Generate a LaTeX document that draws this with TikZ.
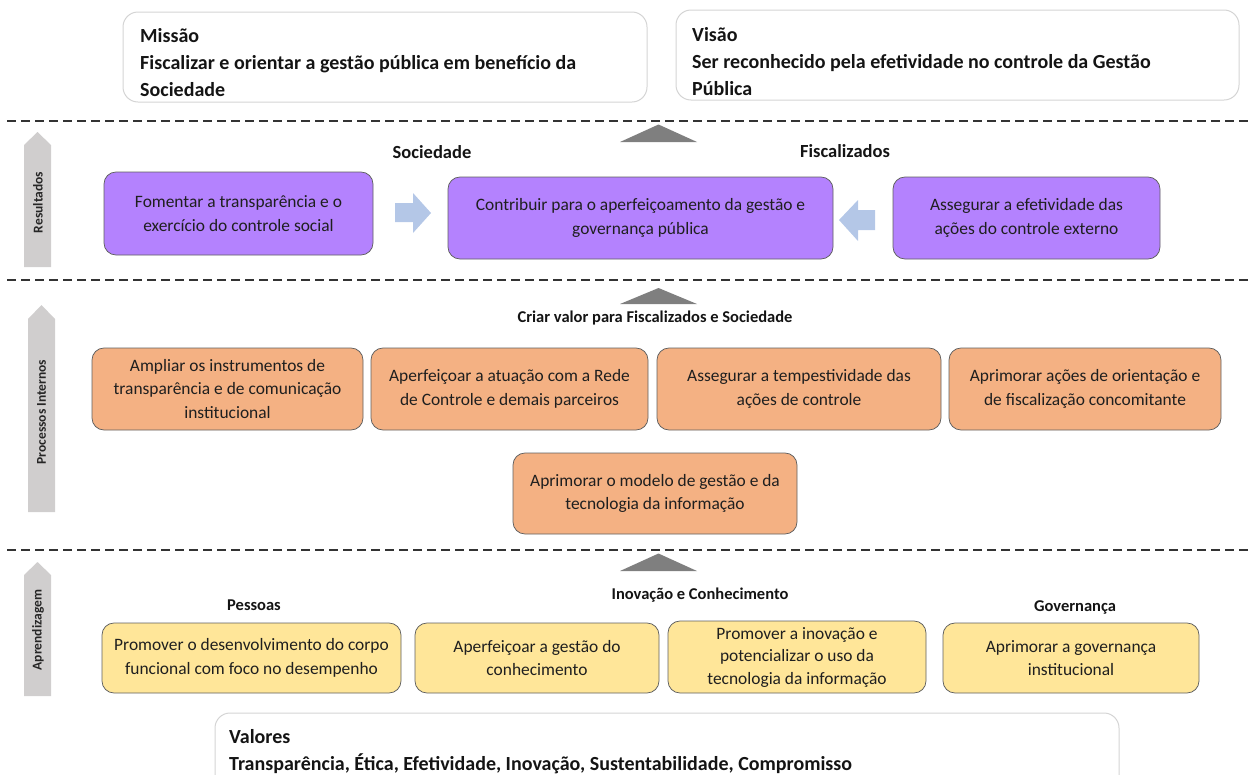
\documentclass[tikz,border=0pt]{standalone}
\usepackage{fontspec}
\setmainfont{Carlito}
\definecolor{cPurple}{HTML}{B482FE}
\definecolor{cOrange}{HTML}{F4B183}
\definecolor{cYellow}{HTML}{FFE699}
\definecolor{cBlue}{HTML}{B4C7E7}
\definecolor{cSide}{HTML}{D0CECE}
\definecolor{cTri}{HTML}{7F7F7F}
\definecolor{cHead}{HTML}{D4D4D4}
\definecolor{cBorder}{HTML}{5F5F5F}
\begin{document}
\begin{tikzpicture}[x=1pt,y=-1pt,
  card/.style={draw=cBorder, line width=0.75pt, rounded corners=12pt, align=center, inner sep=0pt, text=black!88, font=\fontsize{17.4}{23.5}\selectfont},
  purplecard/.style={card, fill=cPurple},
  orangecard/.style={card, fill=cOrange},
  yellowcard/.style={card, fill=cYellow},
  headbox/.style={draw=cHead, line width=1pt, rounded corners=15pt, inner sep=0pt},
  headtext/.style={anchor=west, align=left, inner sep=0pt, text=black!92, font=\bfseries\fontsize{20}{27}\selectfont},
  sidearrow/.style={fill=cSide},
  sidelabel/.style={rotate=90, inner sep=0pt, text=black!85, font=\bfseries\fontsize{13.5}{14}\selectfont},
  uptri/.style={fill=cTri},
  flowarrow/.style={fill=cBlue},
  dashline/.style={draw=black!80, line width=1.4pt, dash pattern=on 9pt off 5pt},
  grouplabel/.style={inner sep=0pt, text=black!92, font=\bfseries\fontsize{18.5}{20}\selectfont},
  smalllabel/.style={inner sep=0pt, text=black!92, font=\bfseries\fontsize{16.5}{18}\selectfont}
]
\useasboundingbox (0,0) rectangle (1252,774);
\clip (0,0) rectangle (1252,774);

% header boxes
\node[headbox, minimum width=524pt, minimum height=90pt] (mis) at (385,57) {};
\node[headtext] (mist) at (140,63) {Missão\\Fiscalizar e orientar a gestão pública em benefício da\\Sociedade};
\node[headbox, minimum width=563pt, minimum height=90pt] (vis) at (957.5,55) {};
\node[headtext] (vist) at (692,62) {Visão\\Ser reconhecido pela efetividade no controle da Gestão\\Pública};

% dashed separators
\coordinate (d1a) at (7,121);   \coordinate (d1b) at (1252,121);
\coordinate (d2a) at (7,280);   \coordinate (d2b) at (1252,280);
\coordinate (d3a) at (7,550);   \coordinate (d3b) at (1252,550);
\draw[dashline] (d1a) -- (d1b);
\draw[dashline] (d2a) -- (d2b);
\draw[dashline] (d3a) -- (d3b);

% side arrows
\fill[sidearrow] (24,267) -- (24,145) -- (37.5,132) -- (51,145) -- (51,267) -- cycle;
\node[sidelabel] (lres) at (38,202.5) {Resultados};
\fill[sidearrow] (28,512) -- (28,319) -- (41.5,305) -- (55,319) -- (55,512) -- cycle;
\node[sidelabel] (lproc) at (41.5,412) {Processos Internos};
\fill[sidearrow] (24,696) -- (24,575) -- (37.5,562) -- (51,575) -- (51,696) -- cycle;
\node[sidelabel] (lapr) at (38,630) {Aprendizagem};

% up triangles
\fill[uptri] (620,142) -- (658.5,124.5) -- (697,142) -- cycle;
\fill[uptri] (620,304) -- (658.5,288) -- (697,304) -- cycle;
\fill[uptri] (620,571) -- (658.5,553.5) -- (697,571) -- cycle;

% Resultados
\node[grouplabel] (lsoc) at (432,152) {Sociedade};
\node[grouplabel] (lfis) at (845,151) {Fiscalizados};
\node[purplecard, minimum width=269pt, minimum height=83pt] (p1) at (238.5,213.5) {Fomentar a transparência e o\\exercício do controle social};
\node[purplecard, minimum width=385pt, minimum height=82pt] (p2) at (640.5,218) {Contribuir para o aperfeiçoamento da gestão e\\governança pública};
\node[purplecard, minimum width=267pt, minimum height=82pt] (p3) at (1026.5,218) {Assegurar a efetividade das\\ações do controle externo};
\fill[flowarrow] (395,203) -- (413,203) -- (413,193) -- (431,213) -- (413,233) -- (413,222) -- (395,222) -- cycle;
\fill[flowarrow] (875,210) -- (858,210) -- (858,200) -- (839,220) -- (858,241) -- (858,230) -- (875,230) -- cycle;

% Processos internos
\node[smalllabel] (lcri) at (655,318) {Criar valor para Fiscalizados e Sociedade};
\node[orangecard, minimum width=271pt, minimum height=82pt] (o1) at (227.5,389) {Ampliar os instrumentos de\\transparência e de comunicação\\institucional};
\node[orangecard, minimum width=277pt, minimum height=82pt] (o2) at (509.5,389) {Aperfeiçoar a atuação com a Rede\\de Controle e demais parceiros};
\node[orangecard, minimum width=284pt, minimum height=82pt] (o3) at (799,389) {Assegurar a tempestividade das\\ações de controle};
\node[orangecard, minimum width=272pt, minimum height=82pt] (o4) at (1085,389) {Aprimorar ações de orientação e\\de fiscalização concomitante};
\node[orangecard, minimum width=284pt, minimum height=81pt] (o5) at (655,493.5) {Aprimorar o modelo de gestão e da\\tecnologia da informação};

% Aprendizagem
\node[smalllabel] (lpes) at (254,605) {Pessoas};
\node[smalllabel] (linov) at (700,595) {Inovação e Conhecimento};
\node[smalllabel] (lgov) at (1075,607) {Governança};
\node[yellowcard, minimum width=299pt, minimum height=70pt] (y1) at (251.5,658) {Promover o desenvolvimento do corpo\\funcional com foco no desempenho};
\node[yellowcard, minimum width=244pt, minimum height=70pt] (y2) at (537,658) {Aperfeiçoar a gestão do\\conhecimento};
\node[yellowcard, minimum width=258pt, minimum height=72pt, font=\fontsize{17.4}{22.5}\selectfont] (y3) at (797,657) {Promover a inovação e\\potencializar o uso da\\tecnologia da informação};
\node[yellowcard, minimum width=256pt, minimum height=70pt] (y4) at (1071,658) {Aprimorar a governança\\institucional};

% Valores
\node[headbox, minimum width=904pt, minimum height=90pt] (val) at (667,758) {};
\node[headtext] (valt) at (229,751.5) {Valores\\Transparência, Ética, Efetividade, Inovação, Sustentabilidade, Compromisso};
\end{tikzpicture}
\end{document}
